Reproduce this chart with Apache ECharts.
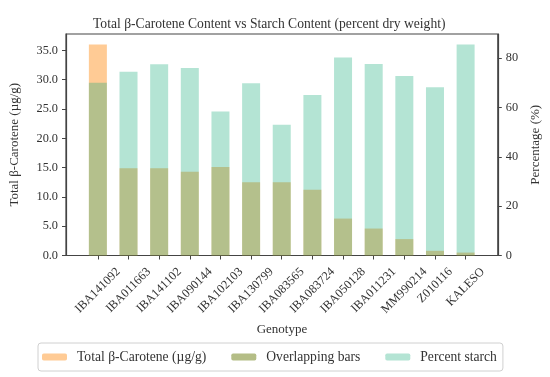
<!DOCTYPE html>
<html>
<head>
<meta charset="utf-8">
<script src="https://cdn.jsdelivr.net/npm/echarts@6/dist/echarts.min.js"></script>
<style>html,body{margin:0;padding:0;background:#fff}#c{width:550px;height:377px}</style>
</head>
<body>
<div id="c"></div>
<script>
const categories = ['IBA141092','IBA011663','IBA141102','IBA090144','IBA102103','IBA130799','IBA083565','IBA083724','IBA050128','IBA011231','MM990214','Z010116','KALESO'];
const caroteneValues = [36.0, 14.9, 14.9, 14.3, 15.1, 12.5, 12.5, 11.2, 6.3, 4.6, 2.8, 0.8, 0.5];
const starchValues = [70.0, 74.5, 77.5, 76.0, 58.4, 69.8, 53.0, 65.1, 80.3, 77.6, 72.8, 68.2, 85.5];
const leftTicks = [0, 5, 10, 15, 20, 25, 30, 35];
const rightTicks = [0, 20, 40, 60, 80];

const FONT = 'Liberation Serif';
const TXT = '#333';
const AX = '#444';
const LBL = 12.3;
const idx = categories.map((c, i) => i);

// measure label widths so rotated labels are centred under their ticks (like matplotlib)
const ctx = document.createElement('canvas').getContext('2d');
ctx.font = LBL + 'px "' + FONT + '"';
const widths = categories.map(c => ctx.measureText(c).width);
const Lmax = Math.max.apply(null, widths);
const rich = {};
categories.forEach((c, i) => {
  const p = (Lmax - widths[i]) * 0.5;
  rich['l' + i] = {fontFamily: FONT, fontSize: LBL, color: TXT, padding: [0, 0, p, p]};
});
const s45 = Math.SQRT1_2;
const lblMargin = 10 + (Lmax + LBL) * s45 / 2;

const chart = echarts.init(document.getElementById('c'), null, {renderer: 'canvas'});
chart.setOption({
  animation: false,
  backgroundColor: '#fff',
  textStyle: {fontFamily: FONT, color: TXT},
  title: {
    text: 'Total β-Carotene Content vs Starch Content (percent dry weight)',
    left: 88, top: 12,
    textStyle: {fontFamily: FONT, fontSize: 13.6, fontWeight: 'normal', color: TXT}
  },
  legend: {
    left: 38, top: 343,
    itemWidth: 25, itemHeight: 7, itemGap: 25,
    padding: [7, 6, 7, 4],
    borderColor: '#d0d0d0', borderWidth: 1, borderRadius: 3,
    textStyle: {fontFamily: FONT, fontSize: 13.6, color: TXT, padding: [0, 0, 0, 5]},
    data: ['Total β-Carotene (µg/g)', 'Overlapping bars', 'Percent starch']
  },
  grid: {left: 64, right: 46, top: 34, bottom: 121.5, show: true, borderColor: AX, borderWidth: 1.2, backgroundColor: 'transparent'},
  xAxis: {
    type: 'value', min: -1.04, max: 13.05,
    name: 'Genotype', nameLocation: 'middle', nameGap: 66,
    nameTextStyle: {fontFamily: FONT, fontSize: 13, color: TXT},
    axisLine: {show: true, onZero: false, lineStyle: {color: AX, width: 1.2}},
    axisTick: {show: true, customValues: idx, length: 4, lineStyle: {color: AX}},
    axisLabel: {customValues: idx, rotate: 45, align: 'center', verticalAlign: 'middle', margin: lblMargin,
      fontFamily: FONT, fontSize: LBL, color: TXT, rich: rich,
      formatter: v => { const i = Math.round(v); return categories[i] ? '{l' + i + '|' + categories[i] + '}' : ''; }},
    splitLine: {show: false}
  },
  yAxis: [{
    type: 'value', min: 0, max: 37.8, position: 'left',
    name: 'Total β-Carotene (µg/g)', nameLocation: 'middle', nameGap: 45, nameRotate: 90,
    nameTextStyle: {fontFamily: FONT, fontSize: 13, color: TXT},
    axisLine: {show: true, onZero: false, lineStyle: {color: AX, width: 1.2}},
    axisTick: {show: true, customValues: leftTicks, length: 4, lineStyle: {color: AX}},
    axisLabel: {customValues: leftTicks, margin: 8, fontFamily: FONT, fontSize: LBL, color: TXT, formatter: v => v.toFixed(1)},
    splitLine: {show: false}
  }, {
    type: 'value', min: 0, max: 89.8, position: 'right',
    name: 'Percentage (%)', nameLocation: 'middle', nameGap: 31, nameRotate: 90,
    nameTextStyle: {fontFamily: FONT, fontSize: 13, color: TXT},
    axisLine: {show: true, onZero: false, lineStyle: {color: AX, width: 1.2}},
    axisTick: {show: true, customValues: rightTicks, length: 4, lineStyle: {color: AX}},
    axisLabel: {customValues: rightTicks, margin: 8, fontFamily: FONT, fontSize: LBL, color: TXT},
    splitLine: {show: false}
  }],
  series: [{
    name: 'Total β-Carotene (µg/g)', type: 'bar', yAxisIndex: 0, barWidth: 18, barGap: '-100%',
    itemStyle: {color: 'rgba(255,140,20,0.45)'},
    data: caroteneValues.map((v, i) => [i, v])
  }, {
    name: 'Overlapping bars', type: 'bar', yAxisIndex: 0, barWidth: 18, barGap: '-100%',
    itemStyle: {color: '#b4bd86'},
    data: []
  }, {
    name: 'Percent starch', type: 'bar', yAxisIndex: 1, barWidth: 18, barGap: '-100%',
    itemStyle: {color: 'rgba(21,170,120,0.32)'},
    data: starchValues.map((v, i) => [i, v])
  }]
});
</script>
</body>
</html>
